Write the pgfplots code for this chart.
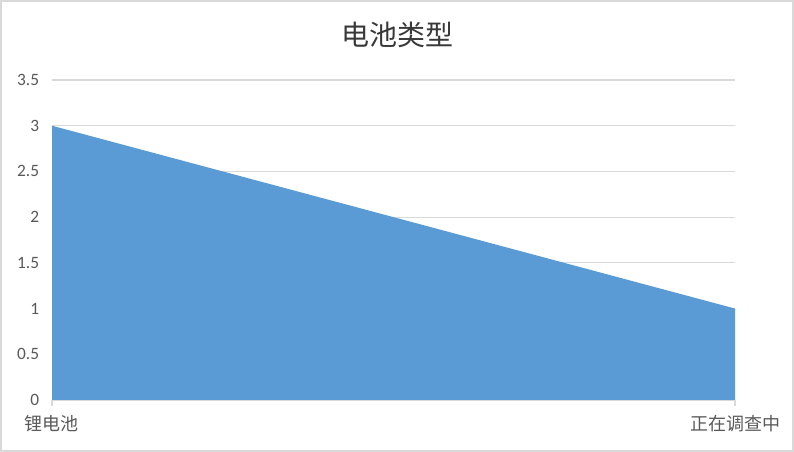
\documentclass[border=0pt]{standalone}
\usepackage{fontspec}
\setmainfont{Carlito}
\newfontfamily\cjk{Noto Sans CJK SC}
\usepackage{pgfplots}
\pgfplotsset{compat=1.18}
\definecolor{areablue}{HTML}{5B9BD5}
\definecolor{gridgray}{HTML}{D9D9D9}
\definecolor{txtgray}{HTML}{595959}
\begin{document}
\begin{tikzpicture}
\useasboundingbox (0,0) rectangle (595.5pt,339pt);
\draw[gridgray, line width=1.5pt] (0.75pt,0.75pt) rectangle (594.75pt,338.25pt);
\begin{axis}[at={(39pt,39pt)}, anchor=south west, scale only axis,
  width=512.25pt, height=240pt,
  xmin=0, xmax=1, ymin=0, ymax=3.5,
  ytick={0,0.5,1,1.5,2,2.5,3,3.5},
  xtick={0,1}, xticklabels={锂电池,正在调查中},
  axis x line*=bottom, axis y line*=left,
  y axis line style={draw=none},
  x axis line style={gridgray, line width=1pt, -},
  ytick style={draw=none},
  xtick style={gridgray, line width=0.8pt},
  xtick align=outside, major tick length=4.5pt,
  ymajorgrids, grid style={gridgray, line width=0.8pt},
  /pgf/number format/assume math mode=true,
  yticklabel style={font=\fontsize{13}{15}\selectfont, text=txtgray, inner sep=0pt, xshift=-9.5pt},
  xticklabel style={font=\cjk\fontsize{13.5}{15}\selectfont, text=txtgray, inner sep=0pt, yshift=-7pt},
  clip=false,
]
\addplot[fill=areablue, draw=none] coordinates {(0,3) (1,1)} \closedcycle;
\end{axis}
\node[text=black!78] at (297.75pt,312.5pt) {\cjk\fontsize{21}{24}\selectfont 电池类型};
\end{tikzpicture}
\end{document}
